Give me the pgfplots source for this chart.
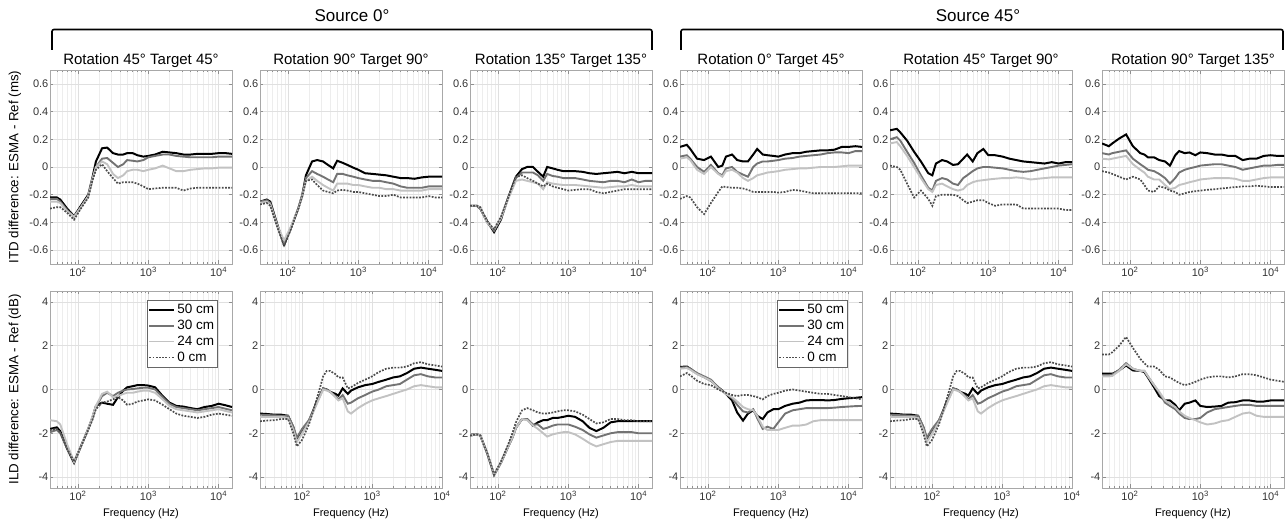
\documentclass[border=0pt]{standalone}
\usepackage{pgfplots}
\pgfplotsset{compat=1.18}
\usepackage{pgfplotstable}
\usepackage{fontspec}
\setmainfont{Liberation Sans}
\definecolor{cA}{gray}{0.0}
\definecolor{cB}{gray}{0.45}
\definecolor{cC}{gray}{0.76}
\definecolor{cD}{gray}{0.3}
\definecolor{frameC}{gray}{0.66}
\definecolor{gridC}{gray}{0.88}
\definecolor{mgridC}{gray}{0.93}
\definecolor{tickC}{gray}{0.2}

% ---------- ITD tables (ms) ----------
\pgfplotstableread{
f a b c d
40 -0.22 -0.23 -0.25 -0.30
50 -0.22 -0.23 -0.25 -0.29
56 -0.235 -0.25 -0.26 -0.29
70 -0.30 -0.31 -0.32 -0.33
88 -0.355 -0.36 -0.36 -0.38
110 -0.28 -0.29 -0.29 -0.30
140 -0.20 -0.21 -0.21 -0.22
160 -0.08 -0.09 -0.09 -0.10
180 0.04 0.00 0.00 -0.02
220 0.135 0.06 0.04 0.02
260 0.14 0.065 0.02 -0.03
315 0.10 0.03 -0.05 -0.08
370 0.09 0.00 -0.08 -0.12
440 0.09 0.02 -0.06 -0.11
500 0.10 0.05 -0.03 -0.11
600 0.10 0.045 -0.02 -0.11
700 0.085 0.04 -0.02 -0.12
850 0.075 0.05 -0.03 -0.14
1000 0.08 0.07 -0.02 -0.16
1250 0.09 0.08 -0.01 -0.155
1600 0.11 0.09 0.01 -0.15
2000 0.105 0.09 -0.01 -0.15
2500 0.10 0.08 -0.03 -0.15
3150 0.09 0.075 -0.03 -0.17
4000 0.09 0.07 -0.02 -0.155
5000 0.095 0.07 -0.015 -0.15
6300 0.095 0.07 -0.01 -0.15
8000 0.095 0.07 -0.01 -0.15
10000 0.10 0.075 -0.005 -0.15
12500 0.10 0.075 -0.005 -0.15
15500 0.095 0.075 -0.005 -0.15
}\tTa
\pgfplotstableread{
f a b c d
40 -0.25 -0.25 -0.26 -0.27
50 -0.235 -0.24 -0.25 -0.26
56 -0.25 -0.26 -0.27 -0.28
70 -0.41 -0.42 -0.42 -0.43
88 -0.56 -0.55 -0.53 -0.57
110 -0.44 -0.44 -0.43 -0.45
140 -0.30 -0.30 -0.30 -0.30
160 -0.20 -0.20 -0.21 -0.21
180 -0.06 -0.08 -0.10 -0.10
220 0.04 -0.03 -0.07 -0.09
260 0.05 -0.05 -0.10 -0.13
315 0.04 -0.07 -0.13 -0.17
370 0.015 -0.09 -0.15 -0.18
440 -0.01 -0.11 -0.17 -0.19
500 0.045 -0.05 -0.12 -0.17
600 0.03 -0.05 -0.12 -0.165
700 0.015 -0.06 -0.12 -0.17
850 -0.005 -0.07 -0.13 -0.18
1000 -0.02 -0.08 -0.13 -0.18
1250 -0.045 -0.09 -0.14 -0.19
1600 -0.05 -0.10 -0.15 -0.20
2000 -0.055 -0.10 -0.15 -0.21
2500 -0.06 -0.11 -0.16 -0.21
3150 -0.07 -0.12 -0.16 -0.20
4000 -0.08 -0.14 -0.17 -0.22
5000 -0.08 -0.15 -0.17 -0.22
6300 -0.085 -0.15 -0.17 -0.22
8000 -0.075 -0.15 -0.17 -0.22
10000 -0.07 -0.14 -0.16 -0.21
12500 -0.07 -0.14 -0.16 -0.22
15500 -0.07 -0.14 -0.16 -0.22
}\tTb
\pgfplotstableread{
f a b c d
40 -0.28 -0.28 -0.28 -0.28
50 -0.28 -0.28 -0.28 -0.28
56 -0.30 -0.30 -0.29 -0.29
70 -0.39 -0.40 -0.40 -0.39
88 -0.47 -0.46 -0.45 -0.45
110 -0.38 -0.37 -0.37 -0.36
140 -0.22 -0.22 -0.23 -0.22
160 -0.14 -0.15 -0.16 -0.14
180 -0.07 -0.08 -0.10 -0.07
220 -0.015 -0.04 -0.09 -0.06
260 0.00 -0.04 -0.10 -0.08
315 0.00 -0.04 -0.11 -0.10
370 -0.035 -0.06 -0.12 -0.12
440 -0.07 -0.10 -0.16 -0.14
500 0.00 -0.05 -0.11 -0.12
600 -0.01 -0.065 -0.12 -0.14
700 -0.02 -0.07 -0.125 -0.15
850 -0.03 -0.08 -0.13 -0.16
1000 -0.03 -0.08 -0.13 -0.17
1250 -0.03 -0.08 -0.13 -0.165
1600 -0.035 -0.09 -0.135 -0.16
2000 -0.045 -0.10 -0.14 -0.16
2500 -0.05 -0.105 -0.145 -0.18
3150 -0.045 -0.11 -0.15 -0.19
4000 -0.04 -0.10 -0.145 -0.18
5000 -0.035 -0.10 -0.14 -0.17
6300 -0.045 -0.11 -0.14 -0.16
8000 -0.035 -0.09 -0.13 -0.16
10000 -0.045 -0.11 -0.14 -0.16
12500 -0.045 -0.10 -0.14 -0.16
15500 -0.045 -0.10 -0.14 -0.16
}\tTc
\pgfplotstableread{
f a b c d
40 0.145 0.075 0.06 -0.23
50 0.16 0.085 0.07 -0.21
56 0.13 0.06 0.05 -0.22
70 0.06 0.00 -0.02 -0.29
88 0.05 -0.035 -0.05 -0.34
110 0.075 0.015 0.00 -0.26
140 0.00 -0.045 -0.05 -0.18
160 0.01 -0.06 -0.07 -0.14
180 0.075 -0.01 -0.03 -0.145
220 0.09 0.00 -0.02 -0.15
260 0.05 -0.035 -0.04 -0.15
315 0.04 -0.055 -0.08 -0.155
370 0.04 -0.07 -0.10 -0.165
440 0.09 0.00 -0.08 -0.18
500 0.13 0.025 -0.06 -0.18
600 0.09 0.04 -0.05 -0.18
700 0.085 0.04 -0.04 -0.18
850 0.08 0.045 -0.035 -0.18
1000 0.075 0.05 -0.03 -0.185
1250 0.09 0.06 -0.02 -0.18
1600 0.10 0.065 -0.015 -0.165
2000 0.10 0.075 -0.01 -0.17
2500 0.11 0.08 -0.01 -0.18
3150 0.115 0.085 -0.005 -0.19
4000 0.12 0.09 0.00 -0.19
5000 0.12 0.10 0.00 -0.19
6300 0.125 0.105 0.00 -0.19
8000 0.145 0.105 0.005 -0.19
10000 0.145 0.10 0.01 -0.19
12500 0.15 0.115 0.01 -0.19
15500 0.145 0.115 0.01 -0.19
}\tTd
\pgfplotstableread{
f a b c d
40 0.265 0.20 0.17 0.01
50 0.275 0.215 0.18 0.00
56 0.25 0.19 0.15 -0.02
70 0.19 0.11 0.08 -0.12
88 0.11 0.03 0.00 -0.22
110 0.04 -0.06 -0.08 -0.17
140 -0.045 -0.15 -0.16 -0.23
160 -0.06 -0.17 -0.18 -0.28
180 0.025 -0.10 -0.13 -0.21
220 0.05 -0.08 -0.12 -0.20
260 0.04 -0.09 -0.14 -0.20
315 0.015 -0.12 -0.16 -0.20
370 0.02 -0.13 -0.17 -0.21
440 0.06 -0.08 -0.16 -0.24
500 0.09 -0.06 -0.13 -0.26
600 0.04 -0.03 -0.11 -0.25
700 0.10 -0.01 -0.10 -0.24
850 0.13 0.00 -0.095 -0.24
1000 0.085 0.00 -0.09 -0.26
1250 0.085 -0.005 -0.085 -0.28
1600 0.075 -0.01 -0.08 -0.27
2000 0.06 -0.02 -0.08 -0.27
2500 0.05 -0.03 -0.075 -0.27
3150 0.04 -0.035 -0.08 -0.30
4000 0.035 -0.03 -0.09 -0.30
5000 0.03 -0.02 -0.085 -0.30
6300 0.025 -0.01 -0.08 -0.30
8000 0.035 0.00 -0.075 -0.30
10000 0.025 0.01 -0.075 -0.30
12500 0.035 0.015 -0.075 -0.31
15500 0.035 0.02 -0.075 -0.31
}\tTe
\pgfplotstableread{
f a b c d
40 0.17 0.10 0.06 -0.03
50 0.15 0.09 0.055 -0.04
56 0.17 0.10 0.06 -0.05
70 0.205 0.11 0.07 -0.07
88 0.235 0.12 0.08 -0.09
110 0.15 0.06 0.02 -0.07
140 0.10 0.02 -0.02 -0.09
160 0.09 0.00 -0.04 -0.13
180 0.07 -0.02 -0.07 -0.17
220 0.07 -0.03 -0.09 -0.18
260 0.05 -0.05 -0.09 -0.14
315 0.04 -0.08 -0.13 -0.15
370 0.01 -0.12 -0.16 -0.17
440 0.085 -0.08 -0.15 -0.18
500 0.115 -0.04 -0.13 -0.20
600 0.10 -0.02 -0.12 -0.19
700 0.105 -0.01 -0.11 -0.18
850 0.085 0.00 -0.10 -0.175
1000 0.105 0.01 -0.09 -0.17
1250 0.10 0.015 -0.085 -0.165
1600 0.09 0.02 -0.08 -0.16
2000 0.09 0.02 -0.08 -0.155
2500 0.08 0.01 -0.08 -0.15
3150 0.08 0.00 -0.085 -0.145
4000 0.05 -0.02 -0.10 -0.14
5000 0.06 -0.01 -0.10 -0.14
6300 0.06 0.00 -0.09 -0.135
8000 0.08 0.01 -0.08 -0.14
10000 0.085 0.01 -0.075 -0.145
12500 0.08 0.015 -0.075 -0.145
15500 0.08 0.015 -0.075 -0.145
}\tTf

% ---------- ILD tables (dB) ----------
\pgfplotstableread{
f a b c d
40 -1.8 -1.95 -1.4 -1.85
50 -1.73 -1.85 -1.45 -1.8
56 -1.9 -2.0 -1.6 -1.95
70 -2.7 -2.7 -2.5 -2.7
88 -3.35 -3.3 -3.3 -3.3
110 -2.6 -2.6 -2.6 -2.6
140 -1.8 -1.8 -1.8 -1.85
160 -1.3 -1.3 -1.25 -1.4
180 -0.75 -0.8 -0.75 -0.9
220 -0.6 -0.3 -0.2 -0.6
260 -0.65 -0.15 -0.1 -0.55
315 -0.7 -0.3 -0.35 -0.45
370 -0.35 -0.15 -0.3 -0.35
440 -0.05 -0.05 -0.2 -0.5
500 0.1 0.0 -0.15 -0.7
600 0.15 0.02 -0.15 -0.65
700 0.2 0.05 -0.1 -0.55
850 0.2 0.08 -0.05 -0.5
1000 0.18 0.08 -0.05 -0.45
1250 0.1 0.0 -0.15 -0.5
1600 -0.3 -0.35 -0.45 -0.7
2000 -0.6 -0.65 -0.75 -0.9
2500 -0.75 -0.8 -0.9 -1.1
3150 -0.78 -0.85 -0.95 -1.2
4000 -0.85 -0.9 -1.0 -1.25
5000 -0.9 -0.95 -1.05 -1.3
6300 -0.8 -0.9 -1.0 -1.25
8000 -0.75 -0.85 -0.95 -1.15
10000 -0.65 -0.8 -0.9 -1.1
12500 -0.72 -0.88 -0.98 -1.15
15500 -0.8 -0.95 -1.05 -1.2
}\tBa
\pgfplotstableread{
f a b c d
25 -1.1 -1.15 -1.25 -1.45
31.5 -1.12 -1.17 -1.25 -1.42
40 -1.15 -1.18 -1.25 -1.4
50 -1.15 -1.2 -1.25 -1.35
63 -1.2 -1.2 -1.3 -1.35
75 -1.73 -1.7 -1.85 -2.0
84 -2.3 -2.2 -2.4 -2.6
100 -1.95 -1.8 -2.0 -2.3
125 -1.45 -1.4 -1.5 -1.6
160 -0.6 -0.65 -0.7 -0.5
200 0.05 0.05 0.0 0.6
225 0.0 0.0 -0.05 0.85
250 -0.1 -0.1 -0.1 0.85
300 -0.2 -0.3 -0.35 0.7
330 -0.28 -0.45 -0.5 0.55
380 0.05 -0.25 -0.4 0.55
450 -0.2 -0.65 -1.0 0.05
500 -0.05 -0.6 -1.1 0.1
630 0.1 -0.4 -0.85 0.3
800 0.2 -0.25 -0.65 0.45
1000 0.25 -0.1 -0.5 0.6
1250 0.35 0.0 -0.4 0.8
1600 0.45 0.15 -0.3 0.95
2000 0.55 0.2 -0.2 1.0
2500 0.6 0.25 -0.1 1.0
3150 0.75 0.45 0.0 1.05
4000 0.95 0.65 0.15 1.2
5000 1.0 0.7 0.2 1.25
6300 0.95 0.6 0.15 1.15
8000 0.9 0.55 0.1 1.1
10000 0.85 0.55 0.1 1.05
}\tBb
\pgfplotstableread{
f a b c d
40 -2.1 -2.1 -2.1 -2.1
50 -2.05 -2.05 -2.05 -2.05
56 -2.1 -2.1 -2.1 -2.1
70 -2.9 -2.9 -2.9 -2.9
88 -3.9 -3.9 -3.9 -3.9
110 -3.35 -3.35 -3.35 -3.3
140 -2.6 -2.6 -2.6 -2.5
160 -2.2 -2.2 -2.2 -2.0
180 -1.75 -1.75 -1.75 -1.5
220 -1.35 -1.35 -1.35 -0.95
260 -1.35 -1.35 -1.4 -0.85
315 -1.65 -1.6 -1.65 -0.95
370 -1.5 -1.6 -1.8 -1.05
440 -1.4 -1.8 -2.0 -1.1
500 -1.4 -1.75 -2.15 -1.1
600 -1.3 -1.65 -2.05 -1.05
700 -1.3 -1.6 -2.0 -1.0
850 -1.25 -1.6 -1.95 -0.95
1000 -1.2 -1.6 -1.95 -0.95
1250 -1.25 -1.7 -2.05 -1.0
1600 -1.45 -1.85 -2.25 -1.15
2000 -1.75 -2.05 -2.45 -1.35
2500 -1.9 -2.2 -2.6 -1.55
3150 -1.75 -2.1 -2.5 -1.5
4000 -1.5 -2.0 -2.4 -1.35
5000 -1.45 -1.95 -2.35 -1.35
6300 -1.45 -1.95 -2.35 -1.4
8000 -1.45 -1.95 -2.35 -1.4
10000 -1.45 -2.0 -2.35 -1.45
12500 -1.45 -2.0 -2.35 -1.45
15500 -1.45 -2.0 -2.35 -1.45
}\tBc
\pgfplotstableread{
f a b c d
40 1.03 1.0 0.95 0.6
50 1.05 1.02 0.98 0.75
56 0.95 0.95 0.9 0.65
70 0.72 0.75 0.7 0.4
88 0.57 0.6 0.55 0.25
110 0.4 0.45 0.4 0.2
140 0.1 0.1 0.05 0.0
160 -0.05 -0.05 -0.08 -0.08
180 -0.2 -0.2 -0.2 -0.15
220 -0.5 -0.4 -0.35 -0.25
260 -1.05 -0.7 -0.55 -0.3
315 -1.42 -1.0 -0.8 -0.25
370 -1.1 -1.05 -0.9 -0.25
440 -0.95 -0.9 -0.95 -0.3
500 -1.2 -1.3 -1.2 -0.35
600 -1.35 -1.8 -1.7 -0.45
700 -1.05 -1.7 -1.85 -0.3
850 -0.9 -1.8 -1.85 -0.2
1000 -0.9 -1.5 -1.85 -0.15
1250 -0.75 -1.1 -1.75 -0.05
1600 -0.65 -0.95 -1.65 0.0
2000 -0.6 -0.9 -1.65 -0.05
2500 -0.5 -0.85 -1.6 -0.1
3150 -0.48 -0.85 -1.45 -0.15
4000 -0.48 -0.85 -1.4 -0.2
5000 -0.5 -0.85 -1.4 -0.2
6300 -0.48 -0.83 -1.4 -0.25
8000 -0.43 -0.8 -1.4 -0.3
10000 -0.4 -0.78 -1.4 -0.35
12500 -0.38 -0.76 -1.4 -0.4
15500 -0.35 -0.75 -1.4 -0.45
}\tBd
\pgfplotstableread{
f a b c d
40 0.72 0.65 0.6 1.6
50 0.72 0.65 0.6 1.6
56 0.72 0.68 0.62 1.7
70 0.87 0.9 0.85 2.0
88 1.1 1.2 1.15 2.4
110 0.87 0.95 0.95 1.9
140 0.85 0.85 0.85 1.4
160 0.8 0.85 0.85 1.2
180 0.55 0.6 0.6 1.05
220 0.1 0.2 0.2 1.05
260 -0.3 -0.15 -0.1 0.9
315 -0.5 -0.6 -0.5 0.6
370 -0.5 -0.75 -0.65 0.55
440 -0.7 -0.9 -0.8 0.4
500 -0.95 -1.1 -1.0 0.3
600 -0.65 -1.3 -1.2 0.2
700 -0.6 -1.35 -1.3 0.25
850 -0.5 -1.35 -1.4 0.35
1000 -0.75 -1.3 -1.5 0.45
1250 -0.8 -1.05 -1.6 0.55
1600 -0.78 -0.9 -1.55 0.6
2000 -0.75 -0.85 -1.45 0.6
2500 -0.6 -0.8 -1.4 0.55
3150 -0.58 -0.75 -1.25 0.6
4000 -0.5 -0.7 -1.1 0.7
5000 -0.5 -0.7 -1.05 0.7
6300 -0.55 -0.75 -1.2 0.65
8000 -0.55 -0.75 -1.25 0.55
10000 -0.5 -0.75 -1.25 0.45
12500 -0.5 -0.75 -1.25 0.4
15500 -0.5 -0.75 -1.25 0.35
}\tBf

\pgfplotsset{
  every axis title/.style={at={(0.5,1)}, anchor=base, yshift=6pt,
    font=\fontsize{15}{17}\selectfont},
  every axis x label/.style={at={(axis description cs:0.5,0)}, anchor=center,
    yshift=-26pt, font=\fontsize{11}{13}\selectfont},
  every axis y label/.style={at={(axis description cs:-0.1923,0.5)}, rotate=90,
    anchor=center, font=\fontsize{13.3}{15}\selectfont},
  myBase/.style={scale only axis, width=182pt, anchor=south west,
    axis line style={frameC, line width=0.7pt},
    tick style={frameC!85!black, line width=0.5pt},
    tick align=inside, major tick length=3.5pt, minor tick length=2pt,
    xtick={100,1000,10000},
    xticklabels={10\textsuperscript{2},10\textsuperscript{3},10\textsuperscript{4}},
    minor xtick={20,30,40,50,60,70,80,90,200,300,400,500,600,700,800,900,2000,3000,4000,5000,6000,7000,8000,9000},
    xmajorgrids, xminorgrids, ymajorgrids,
    major grid style={gridC, line width=0.5pt},
    minor grid style={mgridC, line width=0.4pt},
    tick label style={font=\fontsize{11}{12}\selectfont, text=tickC},
    yticklabel style={inner sep=1.5pt},
    xmin=40, xmax=15500,
  },
  myItd/.style={myBase, height=194pt, ymin=-0.7, ymax=0.7,
    ytick={-0.6,-0.4,-0.2,0,0.2,0.4,0.6},
    yticklabels={-0.6,-0.4,-0.2,0,0.2,0.4,0.6}},
  myIld/.style={myBase, height=197pt, ymin=-4.5, ymax=4.5,
    ytick={-4,-2,0,2,4}, yticklabels={-4,-2,0,2,4},
    xlabel={Frequency (Hz)}},
  myLeg/.style={legend entries={50 cm,30 cm,24 cm,0 cm},
    legend style={at={(axis description cs:0.923,0.955)}, anchor=north east,
      draw=black!60, line width=0.6pt, fill=white,
      font=\fontsize{13.5}{15}\selectfont, inner xsep=1.5pt, inner ysep=2pt,
      row sep=1pt, cells={anchor=west}},
    legend image code/.code={\draw[##1] (0pt,0pt) -- (25pt,0pt);}},
  myA/.style={cA, line width=2pt},
  myB/.style={cB, line width=1.9pt},
  myC/.style={cC, line width=1.9pt},
  myD/.style={cD, line width=1.7pt, dash pattern=on 1.8pt off 1.4pt},
}
\newcommand{\curves}[1]{%
  \addplot[myA] table[x=f,y=a]{#1};
  \addplot[myB] table[x=f,y=b]{#1};
  \addplot[myC] table[x=f,y=c]{#1};
  \addplot[myD] table[x=f,y=d]{#1};
}

\begin{document}
\begin{tikzpicture}
\useasboundingbox (0,0) rectangle (1286pt,527pt);
% brackets and group titles
\draw[line width=1.6pt, rounded corners=2pt] (52pt,477pt) -- (52pt,497.5pt) -- (652pt,497.5pt) -- (652pt,477pt);
\draw[line width=1.6pt, rounded corners=2pt] (681pt,477pt) -- (681pt,497.5pt) -- (1283pt,497.5pt) -- (1283pt,477pt);
\node[anchor=base, font=\fontsize{17}{19}\selectfont] at (352pt,505.5pt) {Source 0°};
\node[anchor=base, font=\fontsize{17}{19}\selectfont] at (978pt,505.5pt) {Source 45°};

% top row
\begin{semilogxaxis}[myItd, at={(50pt,263pt)}, title={Rotation 45° Target 45°},
  ylabel={ITD difference: ESMA - Ref (ms)}]
\curves{\tTa}
\end{semilogxaxis}
\begin{semilogxaxis}[myItd, at={(260pt,263pt)}, title={Rotation 90° Target 90°}]
\curves{\tTb}
\end{semilogxaxis}
\begin{semilogxaxis}[myItd, at={(470pt,263pt)}, title={Rotation 135° Target 135°}]
\curves{\tTc}
\end{semilogxaxis}
\begin{semilogxaxis}[myItd, at={(680pt,263pt)}, title={Rotation 0° Target 45°}]
\curves{\tTd}
\end{semilogxaxis}
\begin{semilogxaxis}[myItd, at={(890pt,263pt)}, title={Rotation 45° Target 90°}]
\curves{\tTe}
\end{semilogxaxis}
\begin{semilogxaxis}[myItd, at={(1102pt,263pt)}, title={Rotation 90° Target 135°}]
\curves{\tTf}
\end{semilogxaxis}

% bottom row
\begin{semilogxaxis}[myIld, myLeg, at={(50pt,39pt)}, ylabel={ILD difference: ESMA - Ref (dB)}]
\curves{\tBa}
\end{semilogxaxis}
\begin{semilogxaxis}[myIld, at={(260pt,39pt)}, xmin=25, xmax=10000]
\curves{\tBb}
\end{semilogxaxis}
\begin{semilogxaxis}[myIld, at={(470pt,39pt)}]
\curves{\tBc}
\end{semilogxaxis}
\begin{semilogxaxis}[myIld, myLeg, at={(680pt,39pt)}]
\curves{\tBd}
\end{semilogxaxis}
\begin{semilogxaxis}[myIld, at={(890pt,39pt)}, xmin=25, xmax=10000]
\curves{\tBb}
\end{semilogxaxis}
\begin{semilogxaxis}[myIld, at={(1102pt,39pt)}]
\curves{\tBf}
\end{semilogxaxis}
\end{tikzpicture}
\end{document}
